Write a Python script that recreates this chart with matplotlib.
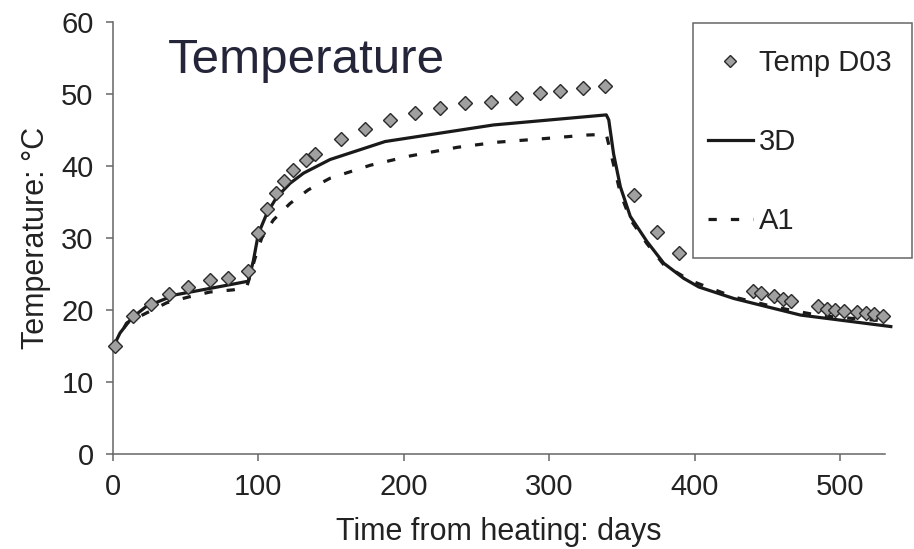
import matplotlib
matplotlib.use("Agg")
import matplotlib.pyplot as plt
from matplotlib.patches import Rectangle

plt.rcParams['font.family'] = ['Liberation Sans', 'DejaVu Sans']

# measured temperatures (Temp D03)
days_obs = [1.4, 13.5, 26, 38.8, 51.8, 66.8, 79.4, 93.1, 99.6, 105.8, 112, 117.9,
            124.1, 132.6, 139, 156.7, 173.4, 190.2, 207.8, 225, 242.3, 260.2, 277.1,
            293.9, 307.6, 323, 338.6, 358.6, 374.2, 389.1, 440, 446, 454.4, 460.6,
            466.6, 485, 491.2, 496.9, 502.6, 511.8, 517.6, 523.3, 529.5]
temp_obs = [15.0, 19.1, 20.9, 22.2, 23.2, 24.2, 24.5, 25.4, 30.7, 34.0, 36.2, 37.9,
            39.4, 40.8, 41.7, 43.7, 45.2, 46.4, 47.3, 48.1, 48.8, 48.9, 49.5,
            50.1, 50.4, 50.8, 51.1, 36.0, 30.8, 27.9, 22.6, 22.3, 21.9, 21.5,
            21.2, 20.6, 20.2, 20.0, 19.9, 19.7, 19.6, 19.4, 19.2]

# 3D model
days_3d = [0, 4.8, 12.9, 23, 42.7, 66.8, 93.1, 96.6, 100, 105.8, 112.7, 121.8, 131,
           149.3, 187.2, 261.7, 339.3, 341, 344.3, 349, 355.8, 367.3, 378.8, 392.5,
           402.9, 427, 472.8, 535]
temp_3d = [14.8, 16.8, 18.9, 20.5, 22.1, 23.0, 24.0, 26.9, 30.6, 33.4, 35.7, 37.6, 39.0,
           40.9, 43.4, 45.7, 47.1, 46.4, 41.7, 37.1, 33.0, 29.5, 26.5, 24.4,
           23.2, 21.6, 19.3, 17.7]

# A1 model
days_a1 = [0, 9.4, 36.9, 51.8, 66.8, 82.8, 92, 97.7, 102.3, 110.3, 121.8, 134.4, 149.3,
           176.9, 204.4, 237, 264, 296.3, 326, 339.3, 343, 349, 355.8, 367.3, 378.8,
           397, 427, 455.6, 486.6, 516.4, 531.3]
temp_a1 = [14.8, 18.2, 21.0, 21.8, 22.5, 22.8, 23.2, 27.2, 30.0, 32.5, 34.8, 36.7, 38.3,
           40.1, 41.4, 42.6, 43.3, 43.8, 44.3, 44.4, 41.3, 36.2, 32.6, 29.2, 26.3,
           24.1, 21.8, 20.4, 19.2, 18.7, 18.5]

x_ticks = [0, 100, 200, 300, 400, 500]
y_ticks = [0, 10, 20, 30, 40, 50, 60]

fig = plt.figure(figsize=(9.14, 5.49), dpi=100)
ax = fig.add_axes([113 / 914, 1 - 454 / 549, 772 / 914, 432 / 549])

ax.plot(days_a1, temp_a1, color='#1a1a1a', lw=2.3, ls=(0, (2.6, 4.4)),
        label='A1', clip_on=False, zorder=2)
ax.plot(days_3d, temp_3d, color='#1a1a1a', lw=2.3, label='3D',
        clip_on=False, zorder=3)
ax.plot(days_obs, temp_obs, ls='none', marker='D', ms=7.5, mfc='#a0a0a0',
        mec='#2a2a2a', mew=1.0, label='Temp D03', clip_on=False, zorder=4)

ax.set_xlim(0, 531)
ax.set_ylim(0, 60)
ax.set_xticks(x_ticks)
ax.set_yticks(y_ticks)
for s in ['top', 'right']:
    ax.spines[s].set_visible(False)
for s in ['left', 'bottom']:
    ax.spines[s].set_color('#666666')
    ax.spines[s].set_linewidth(1.1)
ax.tick_params(direction='out', length=5, width=1.1, color='#666666',
               labelsize=21, pad=9, labelcolor='#222222')

ax.set_xlabel('Time from heating: days', fontsize=22, color='#222222', labelpad=11)
ax.set_ylabel('Temperature: °C', fontsize=22, color='#222222', labelpad=7)

fig.text(168 / 914, 1 - 73 / 549, 'Temperature', fontsize=35.5, color='#25253a',
         va='baseline', ha='left')

# legend box
fig.patches.append(Rectangle((693 / 914, 1 - 258 / 549), 219 / 914, 235 / 549,
                             transform=fig.transFigure, fill=False,
                             edgecolor='#666666', lw=1.1))
handles, labels = ax.get_legend_handles_labels()
order = [2, 1, 0]
fig.legend([handles[i] for i in order], [labels[i] for i in order],
           loc='upper left', bbox_to_anchor=(708 / 914, 1 - 49 / 549),
           frameon=False, fontsize=21, borderpad=0, borderaxespad=0,
           handlelength=1.54, handletextpad=0.2, labelspacing=1.75,
           markerscale=0.85, labelcolor='#222222')

fig.savefig('out.png', dpi=100)
